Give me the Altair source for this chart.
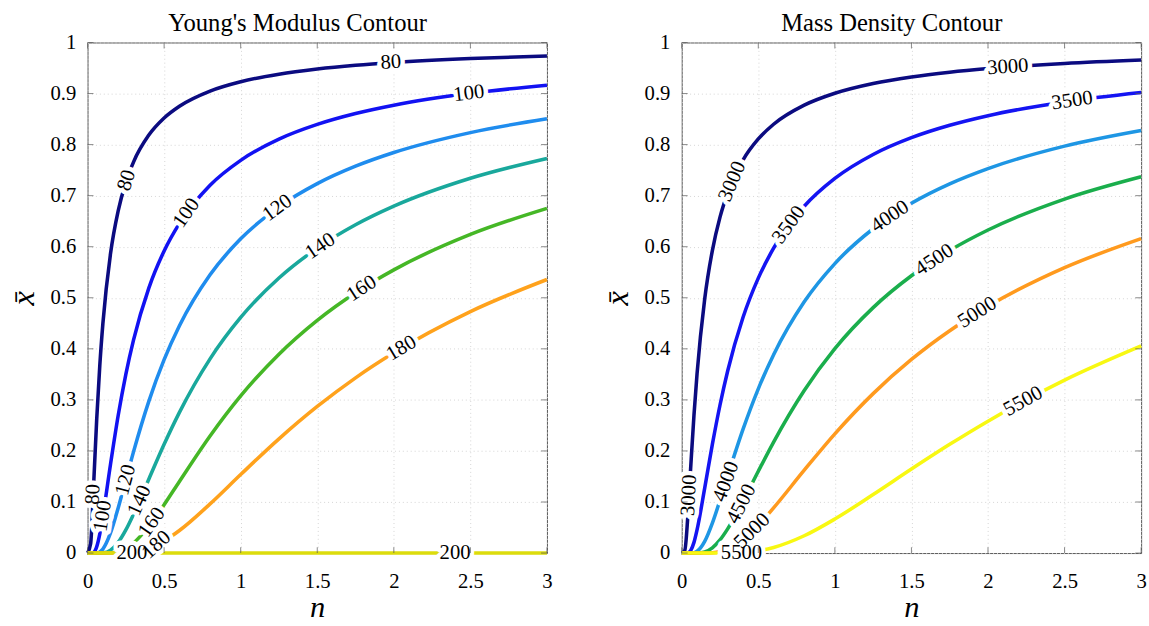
import altair as alt
import pandas as pd

# ---------------- data ----------------
N = [0, 0.02, 0.04, 0.06, 0.08, 0.1, 0.15, 0.2, 0.25, 0.3, 0.4, 0.5, 0.6,
     0.8, 1.0, 1.25, 1.5, 1.75, 2.0, 2.5, 3.0]

# Young's modulus contour levels (x-bar vs n)
E_LEVELS = ["80", "100", "120", "140", "160", "180", "200"]
E80 = [0, 0.0183, 0.1352, 0.2634, 0.3677, 0.4491, 0.5865, 0.6702, 0.7260, 0.7658, 0.8186,
       0.8521, 0.8751, 0.9048, 0.9231, 0.9380, 0.9480, 0.9553, 0.9608, 0.9685, 0.9737]
E100 = [0, 0, 0.0014, 0.0126, 0.0376, 0.0725, 0.1739, 0.2693, 0.3501, 0.4171, 0.5190,
        0.5917, 0.6458, 0.7204, 0.7692, 0.8107, 0.8395, 0.8608, 0.8771, 0.9004, 0.9163]
E120 = [0, 0, 0, 0.0003, 0.0023, 0.0078, 0.0393, 0.0883, 0.1434, 0.1982, 0.2971,
        0.3787, 0.4452, 0.5450, 0.6154, 0.6781, 0.7235, 0.7577, 0.7845, 0.8235, 0.8506]
E140 = [0, 0, 0, 0, 0.0001, 0.0004, 0.0058, 0.0209, 0.0454, 0.0760, 0.1447,
        0.2130, 0.2756, 0.3804, 0.4615, 0.5387, 0.5972, 0.6429, 0.6794, 0.7340, 0.7728]
E160 = [0, 0, 0, 0, 0, 0, 0.0004, 0.0028, 0.0090, 0.0197, 0.0525,
        0.0947, 0.1402, 0.2292, 0.3077, 0.3895, 0.4558, 0.5099, 0.5547, 0.6241, 0.6751]
E180 = [0, 0, 0, 0, 0, 0, 0, 0.0001, 0.0006, 0.0020, 0.0093,
        0.0237, 0.0442, 0.0963, 0.1538, 0.2237, 0.2871, 0.3432, 0.3922, 0.4730, 0.5358]
E200 = [0, 0, 0, 0, 0, 0, 0, 0, 0, 0, 0,
        0, 0, 0, 0, 0, 0, 0, 0, 0, 0]
E_COLORS = ["#0b0b80", "#1212f2", "#1f8cee", "#19a89c", "#45b726", "#ffa21c", "#dcdc0c"]

# Mass density contour levels
R_LEVELS = ["3000", "3500", "4000", "4500", "5000", "5500"]
R3000 = [0, 0.0053, 0.0730, 0.1747, 0.2702, 0.3510, 0.4976, 0.5925, 0.6579, 0.7054, 0.7697,
         0.8111, 0.8399, 0.8773, 0.9006, 0.9197, 0.9326, 0.9419, 0.9490, 0.9590, 0.9657]
R3500 = [0, 0, 0.0004, 0.0058, 0.0209, 0.0453, 0.1271, 0.2128, 0.2900, 0.3565, 0.4613,
         0.5385, 0.5971, 0.6792, 0.7338, 0.7807, 0.8136, 0.8379, 0.8567, 0.8836, 0.9020]
R4000 = [0, 0, 0, 0.0001, 0.0008, 0.0034, 0.0228, 0.0586, 0.1034, 0.1509, 0.2421,
         0.3216, 0.3885, 0.4921, 0.5670, 0.6352, 0.6851, 0.7231, 0.7530, 0.7970, 0.8277]
R4500 = [0, 0, 0, 0, 0, 0.0001, 0.0022, 0.0103, 0.0257, 0.0473, 0.1014,
         0.1602, 0.2174, 0.3184, 0.4003, 0.4807, 0.5431, 0.5926, 0.6327, 0.6933, 0.7370]
R5000 = [0, 0, 0, 0, 0, 0, 0.0001, 0.0007, 0.0030, 0.0078, 0.0263,
         0.0545, 0.0885, 0.1623, 0.2335, 0.3123, 0.3792, 0.4355, 0.4832, 0.5589, 0.6158]
R5500 = [0, 0, 0, 0, 0, 0, 0, 0, 0, 0.0001, 0.0011,
         0.0044, 0.0110, 0.0339, 0.0667, 0.1146, 0.1645, 0.2129, 0.2583, 0.3386, 0.4056]
R_COLORS = ["#0b0b80", "#1414f2", "#1e96e4", "#1aae4c", "#ff9a1e", "#f8f812"]

# inline contour labels
E_LAB_TEXT = ["80", "100", "80", "100", "120", "140", "160", "180",
              "80", "100", "120", "140", "160", "180", "200", "200"]
E_LAB_N = [1.98, 2.49, 0.256, 0.646, 1.24, 1.52, 1.79, 2.05,
           0.037, 0.10, 0.25, 0.34, 0.42, 0.45, 0.29, 2.40]
E_LAB_X = [0.961, 0.900, 0.73, 0.666, 0.676, 0.601, 0.518, 0.401,
           0.115, 0.0725, 0.143, 0.103, 0.06, 0.016, 0.0, 0.0]
E_LAB_ANGLE = [356, 353, 288, 305, 324, 326, 327, 329,
               273, 279, 285, 294, 305, 318, 0, 0]

R_LAB_TEXT = ["3000", "3500", "3000", "3500", "4000", "4500", "5000", "5500",
              "3000", "4000", "4500", "5000", "5500"]
R_LAB_N = [2.13, 2.55, 0.33, 0.70, 1.36, 1.65, 1.93, 2.23,
           0.048, 0.29, 0.39, 0.46, 0.39]
R_LAB_X = [0.952, 0.886, 0.728, 0.643, 0.659, 0.574, 0.471, 0.297,
           0.113, 0.14, 0.096, 0.043, 0.0]
R_LAB_ANGLE = [356, 352, 293, 306, 326, 327, 328, 331,
               273, 290, 297, 315, 0]

X_TICKS = [0, 0.5, 1, 1.5, 2, 2.5, 3]
Y_TICKS = [0, 0.1, 0.2, 0.3, 0.4, 0.5, 0.6, 0.7, 0.8, 0.9, 1]

W, H = 467, 519
FONT = "Liberation Serif, Times New Roman, Times, serif"


def curves_frame(levels, series):
    rows = []
    for lev, ys in zip(levels, series):
        for n, y in zip(N, ys):
            rows.append({"level": lev, "n": n, "xbar": y})
    return pd.DataFrame(rows)


def panel(levels, series, colors, lab_text, lab_n, lab_x, lab_angle, title):
    xs = alt.Scale(domain=[0, 3], nice=False, zero=False)
    ys = alt.Scale(domain=[0, 1], nice=False, zero=False)
    x_axis = alt.Axis(values=X_TICKS, format="~g", ticks=False, domain=False,
                      grid=True, gridColor="#d4d4d4", gridDash=[1, 3],
                      labelFont=FONT, labelFontSize=21, labelColor="black",
                      labelPadding=18, labelFlush=False,
                      title="n", titleFont=FONT, titleFontStyle="italic",
                      titleFontWeight="normal", titleFontSize=31,
                      titleColor="black", titlePadding=2)
    y_axis = alt.Axis(values=Y_TICKS, format="~g", ticks=False, domain=False,
                      grid=True, gridColor="#d4d4d4", gridDash=[1, 3],
                      labelFont=FONT, labelFontSize=21, labelColor="black",
                      labelPadding=12, labelFlush=False,
                      title="x\u0304", titleFont=FONT, titleFontStyle="italic",
                      titleFontWeight="normal", titleFontSize=33,
                      titleColor="black", titlePadding=10)
    cdf = curves_frame(levels, series)
    lines = alt.Chart(cdf).mark_line(strokeWidth=3.6, interpolate="monotone").encode(
        x=alt.X("n:Q", scale=xs, axis=x_axis),
        y=alt.Y("xbar:Q", scale=ys, axis=y_axis),
        color=alt.Color("level:N", scale=alt.Scale(domain=levels, range=colors), legend=None),
    )
    ldf = pd.DataFrame({"n": lab_n, "xbar": lab_x, "label": lab_text, "angle": lab_angle})
    enc = dict(
        x=alt.X("n:Q", scale=xs, axis=x_axis),
        y=alt.Y("xbar:Q", scale=ys, axis=y_axis),
        text="label:N",
        angle=alt.Angle("angle:Q", scale=None),
    )
    halo = alt.Chart(ldf).mark_text(font=FONT, fontSize=21, fill="white", stroke="white",
                                    strokeWidth=9, strokeJoin="round").encode(**enc)
    text = alt.Chart(ldf).mark_text(font=FONT, fontSize=21, fill="black").encode(**enc)

    xt = pd.DataFrame({"n": X_TICKS})
    yt = pd.DataFrame({"xbar": Y_TICKS})
    tb = alt.Chart(xt).mark_tick(color="#555", thickness=1, size=6, orient="vertical").encode(
        x=alt.X("n:Q", scale=xs, axis=x_axis), y=alt.value(H - 3))
    tt = alt.Chart(xt).mark_tick(color="#555", thickness=1, size=6, orient="vertical").encode(
        x=alt.X("n:Q", scale=xs, axis=x_axis), y=alt.value(3))
    tl = alt.Chart(yt).mark_tick(color="#555", thickness=1, size=6, orient="horizontal").encode(
        y=alt.Y("xbar:Q", scale=ys, axis=y_axis), x=alt.value(3))
    tr = alt.Chart(yt).mark_tick(color="#555", thickness=1, size=6, orient="horizontal").encode(
        y=alt.Y("xbar:Q", scale=ys, axis=y_axis), x=alt.value(W - 3))

    return alt.layer(lines, halo, text, tb, tt, tl, tr).properties(
        width=W, height=H,
        title=alt.TitleParams(title, font=FONT, fontSize=25, fontWeight="normal",
                              color="black", offset=-4, anchor="middle", dx=-20),
    )


left = panel(E_LEVELS, [E80, E100, E120, E140, E160, E180, E200], E_COLORS,
             E_LAB_TEXT, E_LAB_N, E_LAB_X, E_LAB_ANGLE, "Young's Modulus Contour")
right = panel(R_LEVELS, [R3000, R3500, R4000, R4500, R5000, R5500], R_COLORS,
              R_LAB_TEXT, R_LAB_N, R_LAB_X, R_LAB_ANGLE, "Mass Density Contour")

chart = alt.hconcat(left, right, spacing=47).resolve_scale(
    color="independent"
).properties(
    padding={"left": 7, "top": 5, "right": 0, "bottom": 0},
    background="white",
).configure_view(stroke="#555", strokeWidth=1)

chart.save("out.html", embed_options={"renderer": "svg", "actions": False})
